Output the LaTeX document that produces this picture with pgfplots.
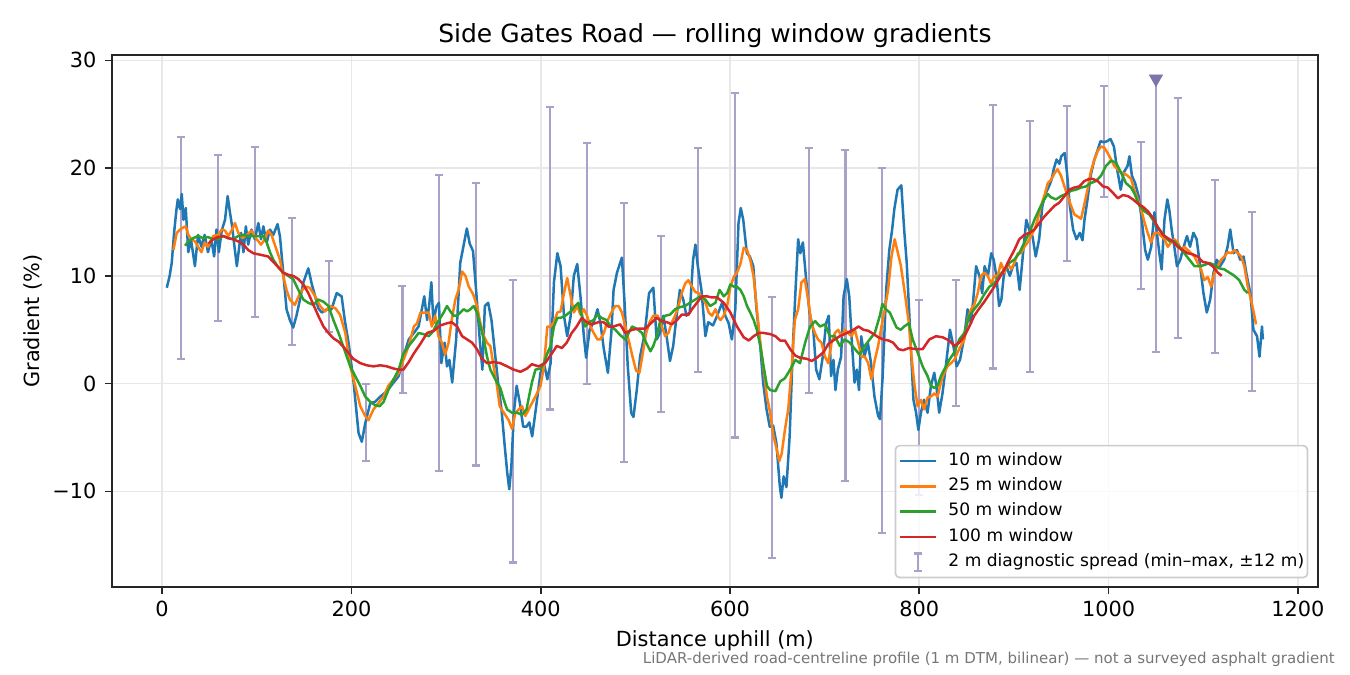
\documentclass[border=0pt]{standalone}
\usepackage{fontspec}
\setmainfont{DejaVu Sans}
\usepackage{pgfplots}
\usepackage{pgfplotstable}
\pgfplotsset{compat=1.18}

\definecolor{c10}{RGB}{31,119,180}
\definecolor{c25}{RGB}{255,127,14}
\definecolor{c50}{RGB}{44,160,44}
\definecolor{c100}{RGB}{214,39,40}
\definecolor{errc}{RGB}{170,160,200}
\definecolor{flagc}{RGB}{128,114,170}
\definecolor{gridc}{RGB}{232,232,232}
\definecolor{legc}{RGB}{204,204,204}
\definecolor{notec}{RGB}{118,118,118}

% 2 m diagnostic spread: min and max over +-12 m
\pgfplotstableread{
x lo hi
20 2.3 22.9
59 5.8 21.2
98 6.2 22.0
137 3.6 15.4
176 4.8 11.4
215 -7.2 0.0
254 -0.9 9.1
293 -8.1 19.4
332 -7.6 18.6
371 -16.6 9.6
410 -2.4 25.7
449 0.0 22.3
488 -7.3 16.8
527 -2.6 13.7
566 1.05 21.9
605 -5.0 27.0
644 -16.2 8.0
683 -0.9 21.9
722 -9.0 21.7
761 -13.9 20.0
800 -10.3 7.8
839 -2.1 9.6
878 1.4 25.9
917 1.1 24.4
956 11.4 25.8
995 17.3 27.6
1034 8.8 22.4
1050 2.9 28.3
1073 4.2 26.5
1112 2.8 18.9
1151 -0.65 15.9
}\spreadtable

\begin{document}
\begin{tikzpicture}
\useasboundingbox (-53.76pt,-42.38pt) rectangle (594.2pt,281.6pt);
\begin{axis}[
  at={(0pt,0pt)}, anchor=south west,
  scale only axis, width=578.7pt, height=255.2pt,
  xmin=-52.9, xmax=1220.9, ymin=-18.85, ymax=30.5,
  xtick={0,200,...,1200}, xticklabels={0,200,400,600,800,1000,1200},
  ytick={-10,0,10,20,30}, yticklabels={−10,0,10,20,30},
  tick pos=left, tick align=outside, major tick length=3.5pt,
  tick style={black!85, line width=0.8pt},
  axis line style={black!85, line width=0.8pt},
  grid=major, major grid style={gridc, line width=0.8pt},
  ticklabel style={font=\fontsize{10}{12}\selectfont, inner sep=0pt},
  xticklabel style={anchor=base, yshift=-10.9pt},
  yticklabel style={anchor=east, xshift=-3.85pt},
  title={Side Gates Road — rolling window gradients},
  title style={at={(axis description cs:0.5,1)}, anchor=base, yshift=0.1pt, inner sep=0pt, font=\fontsize{12}{14}\selectfont},
  xlabel={Distance uphill (m)},
  xlabel style={at={([yshift=-28.8pt]axis description cs:0.5,0)}, anchor=base, inner sep=0pt, font=\fontsize{10}{12}\selectfont},
  ylabel={Gradient (\%)},
  ylabel style={at={([xshift=-34.56pt]axis description cs:0,0.5)}, anchor=base, inner sep=0pt, font=\fontsize{10}{12}\selectfont},
  legend cell align=left,
  legend style={at={([xshift=-4.5pt,yshift=4pt]axis description cs:1,0)}, anchor=south east,
    draw=legc, line width=0.8pt, rounded corners=2pt, fill=white, fill opacity=0.8, text opacity=1,
    font=\fontsize{8.2}{10}\selectfont, inner xsep=1.6pt, inner ysep=1.3pt, row sep=0pt, column sep=5.6pt,
    nodes={inner xsep=0pt, inner ysep=2.07pt, text height=6.0pt, text depth=2.0pt}},
]

\addplot[draw=none, mark=none, forget plot,
  error bars/.cd, y dir=both, y explicit,
  error bar style={draw=errc, line width=1pt},
  error mark options={rotate=90, draw=errc, line width=1pt, mark size=1.92pt}]
  table[x=x, y expr={(\thisrow{lo}+\thisrow{hi})/2}, y error expr={(\thisrow{hi}-\thisrow{lo})/2}] {\spreadtable};

\addplot[c10, line width=1.2pt, line join=round] coordinates {
(5,8.9)(8,10.0)(10.2,11.2)(12.7,14.0)(15,16.0)(16.6,17.1)(19,16.2)(20.8,17.6)(22.6,15.2)(25,16.3)(27.7,12.2)(30.5,13.4)(34.7,10.9)(38,13.8)(41.6,12.7)(45,13.8)(48.5,12.2)(52,13.4)(55,11.8)(57.5,14.3)(60,12.2)(63,14.2)(66.5,15.2)(69.3,17.4)(71.7,15.9)(74,14.6)(76.5,12.7)(79,10.9)(81.5,12.7)(83.5,14.0)(86,12.2)(88.5,14.6)(91,12.9)(94.5,14.3)(98,13.4)(101.7,14.9)(104.5,13.4)(107,14.6)(110.5,13.1)(114,14.3)(117.5,13.8)(122,14.8)(124.5,13.7)(128,10.3)(131.5,6.9)(135,5.9)(138.5,5.2)(142,6.3)(145.7,7.8)(149.3,9.4)(154.5,10.7)(158,9.3)(161.7,8.1)(165,7.0)(168.7,6.6)(174,6.9)(179,6.9)(184.5,8.4)(189.7,8.1)(193,5.9)(197,3.8)(202,0.4)(207.6,-4.6)(211,-5.4)(214.6,-3.7)(220,-1.8)(225,-1.7)(230.6,-1.2)(237.6,-0.7)(244.6,0.1)(250,0.7)(255,2.5)(260.6,4.1)(266,4.7)(271,5.3)(277,8.1)(280,5.9)(282,7.1)(284.5,9.4)(286.7,5.6)(289.6,7.1)(292.5,7.5)(295,1.9)(298.5,3.8)(301,1.6)(303.6,2.2)(306.5,0.1)(310.7,4.1)(315,11.2)(318.5,12.8)(322,14.4)(325,13.0)(328.5,12.3)(332,8.4)(335.6,4.1)(338.4,1.3)(341,7.2)(344.5,7.5)(348,5.9)(351.6,2.9)(355,0.1)(358.6,-2.4)(362,-5.8)(364.7,-8.3)(366.8,-9.8)(369,-7.7)(371.7,-2.7)(374.6,-0.2)(378,-1.8)(381.5,-4.0)(385,-4.0)(388,-3.6)(391,-4.9)(394.5,-2.6)(399.8,1.0)(403.4,1.9)(407,0.4)(410.5,1.9)(414,9.4)(417.6,12.1)(421,10.9)(424.6,6.3)(428,4.4)(431.7,6.3)(435,10.0)(438.6,11.1)(442,8.1)(445.6,4.4)(448,2.4)(451.7,5.0)(456,5.7)(460,6.9)(463,5.7)(466.7,3.2)(471,1.0)(474.6,4.7)(477,8.7)(480.6,10.3)(485.8,11.7)(488.6,7.5)(492,1.6)(495.6,-2.7)(498,-3.1)(501.5,-0.6)(505,2.5)(510,4.7)(514.5,8.4)(519,8.9)(522.5,4.1)(526,4.7)(529.6,6.3)(533,4.4)(536.6,2.1)(540,3.5)(543.6,6.3)(547,8.7)(550.6,7.8)(554,6.3)(557.5,6.6)(561,11.5)(563.5,12.9)(566,10.9)(569.8,8.7)(574,4.4)(577,5.7)(582,5.4)(586.4,6.3)(591.7,7.5)(595,6.3)(598.6,5.6)(602,4.1)(605.6,6.9)(609,14.9)(611.4,16.3)(614,15.2)(617.8,12.1)(621,11.8)(624.6,10.9)(628,6.9)(631.7,3.8)(635,0.1)(638.6,-2.4)(642,-4.0)(645.6,-3.9)(649,-5.5)(652.6,-9.5)(654.3,-10.6)(656.7,-8.6)(659.6,-9.6)(663,-4.9)(666.6,3.8)(669.4,9.0)(672,13.4)(674.3,12.1)(677,13.1)(680.4,9.7)(684,6.6)(688,5.0)(691,1.3)(694.4,0.4)(698,2.5)(701.5,5.6)(704.3,6.3)(706.8,0.7)(709.3,2.2)(711.4,-0.6)(713.9,1.3)(717.4,2.5)(720,8.1)(723.4,9.7)(726,8.1)(729,3.5)(731.6,0.1)(734,1.3)(736.3,-0.6)(738.6,4.4)(742,2.5)(745.6,3.8)(749,1.9)(752.6,-1.2)(756.5,-3.0)(758.5,-3.3)(761.3,0.7)(765,8.7)(768.3,12.4)(771.3,14.3)(773.6,16.2)(777,18.0)(781,18.4)(784,14.3)(786.7,11.2)(789,7.2)(791.3,2.9)(793.8,-1.5)(796.6,-2.7)(799,-4.3)(801.7,-2.7)(805,-1.5)(808.7,-2.7)(812.3,-0.2)(815.8,1.0)(818,-0.2)(821,-2.7)(824.5,-0.9)(828,1.6)(832.4,5.0)(836,3.5)(839.5,1.6)(843,2.2)(847.6,4.4)(851,6.9)(854.6,5.6)(857,7.8)(860,10.9)(863.5,10.0)(866.4,8.4)(869,10.9)(872.5,10.0)(876,12.1)(878.6,11.5)(881.4,10.0)(884.3,7.2)(886.7,7.8)(889.2,10.0)(892,10.9)(895.6,10.0)(899,10.9)(902.7,11.2)(906,8.7)(909.6,12.1)(913,15.2)(916,14.3)(919.5,13.7)(923,11.8)(926.6,13.4)(930,16.5)(933.7,17.7)(937,18.3)(939.6,18.9)(942,19.9)(945,20.8)(948,20.4)(950,21.1)(953.6,21.4)(956,19.6)(959,16.5)(962.5,14.3)(966,13.4)(969.6,14.0)(972.4,13.3)(974.5,15.2)(977.7,17.1)(981,19.3)(985,20.8)(988.5,21.7)(991.4,22.5)(995,22.4)(998.3,22.5)(1002,22.7)(1005.6,22.0)(1009,19.9)(1012.8,18.0)(1016,19.6)(1020,20.2)(1022,21.1)(1024.6,19.3)(1028,18.6)(1031.7,17.4)(1035,15.2)(1038.6,12.4)(1041.4,11.5)(1045,12.7)(1048.4,15.9)(1051,14.0)(1053.6,12.1)(1056,10.6)(1059,15.2)(1062,17.1)(1064,16.2)(1066.6,14.3)(1069.4,12.7)(1072.2,10.9)(1075.7,11.5)(1079.3,12.7)(1082.8,13.7)(1086,12.7)(1089.6,14.0)(1093,13.4)(1096.7,10.9)(1100.2,8.4)(1103.7,6.6)(1107.3,7.8)(1110.8,10.3)(1114.3,11.5)(1117.8,10.9)(1122,11.5)(1125.7,12.7)(1128.5,14.3)(1132,12.1)(1135.6,12.4)(1139,11.5)(1142.6,11.8)(1146,10.0)(1149.7,8.4)(1153,5.0)(1156.8,4.4)(1159.4,2.5)(1162,5.3)(1163,4.1)
};
\addlegendentry{10 m window}

\addplot[c25, line width=1.2pt, line join=round] coordinates {
(12,12.4)(15.5,14.0)(19,14.3)(22.6,14.5)(25,14.6)(27.7,13.8)(31,13.4)(34.7,13.2)(38,12.7)(41.6,12.2)(45,13.1)(48.5,12.7)(54,13.7)(59,13.8)(63,14.3)(66.5,14.2)(70,13.7)(74,14.3)(77,14.9)(80.5,14.0)(85,13.5)(89.5,13.8)(94.5,14.2)(100,13.4)(104.5,12.9)(108.6,13.4)(112,14.2)(115.6,13.8)(121,12.4)(124.5,11.5)(128,10.0)(131.5,8.7)(135,7.8)(140.3,7.3)(145.7,8.4)(151,9.0)(156,8.9)(161.7,8.1)(167,7.2)(172,6.7)(177.6,7.2)(183,7.0)(188,6.4)(193.6,4.7)(198.8,1.6)(204,-0.2)(209.4,-2.1)(214.6,-3.0)(218,-3.4)(223.3,-2.4)(228.6,-1.8)(234,-1.2)(239,-0.2)(244.6,0.4)(250,1.0)(255,2.2)(260.6,3.5)(266,5.3)(269.4,5.6)(273,6.6)(278,6.6)(281.7,6.6)(285,5.3)(288.6,6.3)(292,4.4)(295.6,3.8)(299,2.7)(302.7,3.8)(306,5.9)(309.8,7.8)(313.3,8.7)(317,10.4)(320.5,10.0)(324,9.0)(328.6,8.3)(332.7,7.2)(336.3,5.6)(340,4.4)(343.3,3.8)(346.8,3.5)(350.3,1.6)(353.8,-0.2)(356.7,-2.1)(361,-2.7)(366.2,-3.4)(369.7,-4.2)(373.3,-2.7)(376.8,-2.4)(380.3,-2.1)(383.8,-3.0)(389,-2.1)(394.5,-1.2)(399.8,-0.2)(403.4,1.6)(407,5.3)(410.5,5.3)(414,5.7)(417.6,6.6)(421,6.7)(424.6,8.4)(428,9.8)(431.7,8.1)(435,6.6)(438.6,7.2)(442,6.4)(445.6,6.9)(449,6.3)(452.6,5.3)(456,4.7)(460,4.1)(463,4.1)(466.7,4.7)(471,5.9)(474.6,6.6)(478.8,7.2)(482.3,7.2)(485.8,6.6)(489.4,5.3)(493.6,3.8)(497,2.5)(500.8,1.2)(504.3,1.0)(507.8,2.8)(511.4,4.7)(515,5.7)(519,6.3)(523.6,6.3)(528,5.3)(531.5,4.4)(535,4.7)(538.6,5.7)(542,6.3)(545.6,7.2)(549,8.4)(552.7,9.3)(556,9.6)(559.8,9.0)(563.3,8.5)(566.8,8.4)(570.4,8.1)(574,7.5)(577.5,6.6)(581,6.3)(584.6,6.9)(588,6.1)(590,5.9)(593.4,6.3)(597,7.2)(600.4,9.0)(604,9.9)(607.4,10.3)(611,11.1)(614.5,12.6)(618,12.4)(621.4,11.5)(625,9.9)(628.4,6.9)(632,3.8)(635.5,1.3)(639,-1.2)(642.4,-2.7)(646,-4.9)(649.4,-6.1)(652,-7.2)(654.6,-6.5)(658,-4.3)(661.5,-2.4)(665,1.3)(668.5,5.9)(672,6.9)(675.5,9.4)(679,9.7)(682.6,7.8)(686,5.6)(689.7,4.7)(693,4.1)(696.7,3.8)(700.3,2.5)(703.8,1.9)(707.3,3.8)(710.8,4.7)(714.3,5.0)(717.8,4.4)(721.3,5.0)(724.8,4.7)(728.4,4.4)(731.9,5.0)(735.4,3.8)(739,2.5)(742.4,2.5)(746,1.9)(749.4,0.4)(753,2.2)(756.5,3.5)(760,5.3)(763.6,6.9)(767,8.7)(770.6,11.8)(774,13.4)(777.7,12.0)(780.4,11.0)(785,8.2)(789,5.6)(791.3,2.9)(795,-0.2)(798.2,-2.1)(801.7,-1.5)(805,-2.4)(808.7,-1.3)(812.3,-1.2)(815.8,-0.9)(819.3,-1.2)(822.8,0.1)(826.3,1.0)(829.8,1.6)(833.4,1.9)(837,2.2)(840.4,2.9)(844,3.5)(847.6,4.1)(851,5.9)(854.6,6.9)(858,7.3)(861.7,8.4)(865.2,10.0)(868.7,10.3)(872.3,10.0)(875.8,9.3)(879.3,10.0)(882.8,10.0)(886.3,11.2)(890,10.3)(893.4,11.2)(897,10.6)(900.4,11.2)(904,12.1)(907.5,12.1)(911,12.7)(914.5,13.1)(918,13.7)(921.6,14.3)(925,15.2)(928.6,16.5)(932,17.4)(935.7,18.6)(939,18.9)(942.7,19.5)(946,19.9)(949.7,19.3)(953.3,18.3)(956.8,17.4)(960.3,16.5)(963.8,15.7)(967.4,15.5)(970.9,15.3)(974,16.5)(977.7,18.0)(981,19.6)(985,20.8)(988.5,21.6)(992,22.0)(995.5,21.9)(999,21.4)(1002.6,20.8)(1006,20.2)(1009.6,19.9)(1013,19.6)(1016.7,19.5)(1020,19.3)(1023.7,19.0)(1027,18.0)(1030.8,17.1)(1034.3,16.2)(1037.8,15.0)(1041.3,14.0)(1044.8,13.1)(1048.4,14.0)(1052,14.0)(1055.4,13.7)(1059,13.4)(1062.5,12.7)(1066,13.1)(1069.5,13.4)(1073,13.1)(1076.6,12.4)(1080,12.7)(1083.6,12.4)(1087,12.1)(1090.7,11.8)(1094,11.2)(1097.7,10.6)(1101,9.6)(1104.8,9.9)(1108.3,9.0)(1111.8,10.3)(1115.3,10.9)(1118.8,11.5)(1122.3,11.8)(1125.8,12.2)(1129.3,12.1)(1132.8,12.4)(1136.4,12.1)(1140,11.8)(1143.4,10.9)(1147,9.0)(1150.4,7.8)(1153.3,6.6)(1155.8,5.5)
};
\addlegendentry{25 m window}

\addplot[c50, line width=1.2pt, line join=round] coordinates {
(24.3,12.8)(27.7,13.2)(33,13.5)(38,13.7)(43.3,13.5)(48.5,13.6)(54,13.4)(59,13.4)(64.5,13.7)(70,13.5)(75,13.4)(80.5,13.7)(86,13.8)(91,13.7)(96.4,13.7)(101.7,13.7)(107,13.7)(110.5,13.1)(114,12.2)(117.5,11.5)(122.8,10.8)(128,10.3)(133.3,10.0)(138.5,9.7)(144,8.7)(149.3,7.8)(154.5,7.5)(160,7.3)(165,7.8)(170.5,7.6)(175.8,7.2)(181,5.9)(186.4,4.7)(193.6,2.9)(198.8,1.6)(204,0.7)(209.4,-0.2)(214.6,-1.2)(220,-1.7)(225,-2.0)(229.8,-2.1)(234,-1.7)(239,-0.6)(244.6,0.4)(250,1.3)(255,2.8)(260.6,3.5)(266,4.1)(271,4.7)(276,4.6)(281.7,4.4)(286.7,4.9)(290.4,5.6)(294,6.1)(297.5,6.6)(301,7.2)(304.6,6.7)(308,6.3)(311.7,6.3)(315,6.6)(318.7,6.9)(322.3,6.7)(325.7,6.9)(329.3,7.2)(332.7,6.6)(336.3,5.3)(340,4.1)(343.3,2.5)(346.8,1.3)(350.3,0.7)(353.8,0.1)(357.3,-0.4)(361,-1.5)(364.5,-2.4)(369.7,-2.7)(375,-2.7)(380.3,-2.9)(385,-2.4)(387,-1.5)(390.7,0.1)(394.5,1.3)(399.8,1.4)(403.4,1.9)(407,2.8)(410.5,3.5)(414,5.3)(417.6,6.1)(421,6.1)(426,6.3)(431.7,6.7)(436.3,7.2)(439.8,7.5)(443.4,6.3)(447,5.3)(451,5.7)(456,5.9)(460,6.4)(464.4,6.1)(469.4,5.9)(474,5.3)(478.8,5.0)(484,4.5)(489.4,4.1)(493,4.7)(496.5,5.3)(501.5,5.1)(507,4.7)(511.4,3.8)(516,3.0)(519,3.5)(522.5,4.4)(526,5.7)(531.5,6.3)(536.6,6.4)(542,6.9)(547,7.1)(552.5,7.2)(557.5,7.5)(563.3,7.8)(568.5,8.1)(574,7.8)(579,7.2)(584.6,7.5)(589,8.7)(593.4,8.1)(597,8.4)(600.4,9.2)(604,9.0)(607.4,9.0)(611,8.7)(614.5,8.1)(618,7.2)(621.4,6.6)(625,5.9)(628.4,5.0)(632,3.5)(635.5,1.6)(639,-0.2)(642.4,-0.6)(648,-0.7)(653,0.2)(658,0.5)(663.6,1.3)(669,2.2)(674,1.9)(679.4,3.8)(684.6,5.3)(690,5.8)(695,5.3)(700.3,5.5)(705.6,4.4)(710.8,4.4)(716,3.5)(721.3,4.1)(726.6,3.8)(732,3.2)(737,2.7)(742.4,3.5)(747.6,4.1)(753,4.7)(758.3,6.3)(761,7.4)(764.6,6.9)(768.8,6.6)(772.4,5.9)(776,5.2)(780.4,5.0)(784,5.3)(789,5.6)(793,4.1)(798.2,2.9)(803.5,1.6)(808.7,0.7)(812.3,-0.2)(815.8,-0.4)(819.3,-0.2)(822.8,0.7)(826.3,1.3)(831.6,2.2)(837,2.9)(842.2,4.1)(847.6,4.7)(852.8,6.3)(858,6.9)(863.5,7.5)(868.7,8.3)(874,9.0)(879.3,9.3)(884.5,10.0)(890,10.6)(895,11.2)(900.4,11.5)(905.6,12.1)(911,13.1)(916.3,14.0)(921.6,15.2)(926.8,16.2)(932,17.1)(935.7,17.6)(939,17.3)(944.5,17.1)(949.7,17.4)(955,17.6)(960.3,17.9)(965.6,18.0)(971,18.2)(976,18.3)(981,18.6)(986.6,18.8)(992,19.3)(997.2,20.2)(1002.6,20.7)(1007.8,20.5)(1013,19.6)(1018.4,18.6)(1023.7,18.2)(1027,17.7)(1032.6,16.5)(1037.8,16.0)(1043,15.7)(1048.4,15.0)(1053.6,14.3)(1059,13.7)(1064.2,13.2)(1069.5,13.2)(1074.7,12.7)(1080,12.1)(1085.3,11.5)(1090.7,10.9)(1096,10.9)(1101,11.0)(1106.5,11.2)(1111.8,11.0)(1117,10.7)(1122.3,10.6)(1127.6,10.3)(1133,10.0)(1138,9.6)(1143.4,8.7)(1147,8.4)
};
\addlegendentry{50 m window}

\addplot[c100, line width=1.2pt, line join=round] coordinates {
(49,13.0)(54,13.4)(59,13.6)(64.5,13.7)(70,13.5)(75,13.4)(80.5,13.2)(86,12.9)(91,12.4)(96.4,12.1)(101.7,12.0)(107,11.9)(112,11.8)(117.5,11.3)(122.8,10.8)(128,10.3)(133.3,10.1)(138.5,10.0)(144,9.7)(149.3,9.2)(154.5,8.4)(160,7.3)(165,6.3)(170.5,5.3)(175.8,4.7)(181,4.2)(186.4,3.9)(191.7,3.4)(195.5,3.0)(202,2.3)(209.4,1.9)(216.3,1.7)(223.3,1.6)(230.6,1.7)(237.6,1.6)(244.6,1.4)(250,1.3)(255,1.3)(260.6,2.0)(266,2.8)(273,3.7)(280,4.7)(287,4.9)(294,5.4)(301,5.6)(306,5.7)(311.7,5.3)(317,4.4)(322.3,4.1)(327.5,3.8)(332.7,3.2)(338,2.3)(343.3,1.9)(350.3,2.0)(357.3,1.9)(364.5,1.6)(371.5,1.3)(378.6,1.1)(385.5,1.4)(390.7,1.8)(397.7,1.6)(404.7,1.9)(411.8,2.8)(417,3.5)(422.3,3.3)(427.5,3.8)(432.8,4.7)(438,5.3)(443.4,6.1)(448.6,5.7)(454,5.5)(461,5.7)(466.4,5.7)(471.6,5.3)(477,5.3)(484,5.5)(489.4,4.7)(496.5,5.0)(503.5,5.1)(510.5,5.1)(517.6,5.7)(522.8,6.1)(528,5.8)(533.4,5.7)(538.6,5.5)(544,5.9)(549,6.4)(556.2,6.4)(559.8,6.9)(565,7.5)(570.4,8.1)(575.6,8.1)(581,8.0)(586.4,8.0)(593.4,7.5)(600.4,6.6)(607.4,5.3)(614.5,4.3)(619.8,4.0)(625,4.4)(630.4,4.7)(635.5,4.7)(642.4,4.6)(648,4.4)(653,4.0)(658,4.0)(663.6,3.2)(669,2.6)(674,2.4)(681.3,2.3)(686.4,2.1)(691.7,2.4)(698.7,2.9)(704,3.7)(709,4.0)(716,4.4)(723.4,4.7)(730.5,5.0)(735.8,5.3)(741,5.0)(746.3,4.9)(751.6,4.6)(756.8,4.3)(762,4.1)(767.5,4.0)(772.4,3.8)(778,3.2)(783,3.1)(789,3.3)(796.6,3.2)(803.5,3.2)(810.6,4.1)(817.6,4.4)(824.6,4.3)(831.6,4.0)(837,3.5)(842.2,3.8)(847.6,4.4)(852.8,5.3)(858,6.3)(863.5,7.0)(868.7,7.6)(874,8.3)(879.3,9.0)(884.5,9.8)(890,10.6)(895,11.5)(900.4,12.4)(905.6,13.4)(911,13.8)(916.3,14.0)(921.6,14.3)(926.8,14.9)(932,15.5)(937.4,16.0)(942.7,16.5)(948,16.8)(953.3,17.4)(958.5,18.0)(963.8,18.2)(969,18.3)(974.4,18.8)(979.6,19.0)(983,19.0)(988.5,18.8)(994,18.3)(999,18.2)(1004.6,17.7)(1009.8,17.2)(1015,17.5)(1020.5,17.4)(1025.7,17.1)(1031,16.7)(1036.4,16.4)(1041.4,16.0)(1046.7,15.4)(1052,14.5)(1057.4,13.8)(1062.5,13.5)(1067.8,13.2)(1073,12.7)(1078.3,12.4)(1083.6,12.1)(1088.8,12.0)(1094,11.8)(1099.3,11.3)(1104.8,11.2)(1110,10.9)(1115.3,10.3)(1119.5,10.0)
};
\addlegendentry{100 m window}

\addlegendimage{legend image code/.code={
  \draw[errc, line width=1pt] (0.3cm,-4.15pt) -- (0.3cm,4.15pt);
  \draw[errc, line width=1pt] (0.3cm-1.92pt,-4.15pt) -- (0.3cm+1.92pt,-4.15pt);
  \draw[errc, line width=1pt] (0.3cm-1.92pt,4.15pt) -- (0.3cm+1.92pt,4.15pt);
}}
\addlegendentry{2 m diagnostic spread (min–max, ±12 m)}

\addplot[only marks, forget plot, mark=triangle*, mark size=3.6pt,
  mark options={rotate=180, fill=flagc, draw=flagc}] coordinates {(1050,28.3)};
\end{axis}
\node[anchor=base east, inner sep=0pt, text=notec, font=\fontsize{7.2}{8.5}\selectfont]
  at (587pt,-37.1pt) {LiDAR-derived road-centreline profile (1 m DTM, bilinear) — not a surveyed asphalt gradient};
\end{tikzpicture}
\end{document}
